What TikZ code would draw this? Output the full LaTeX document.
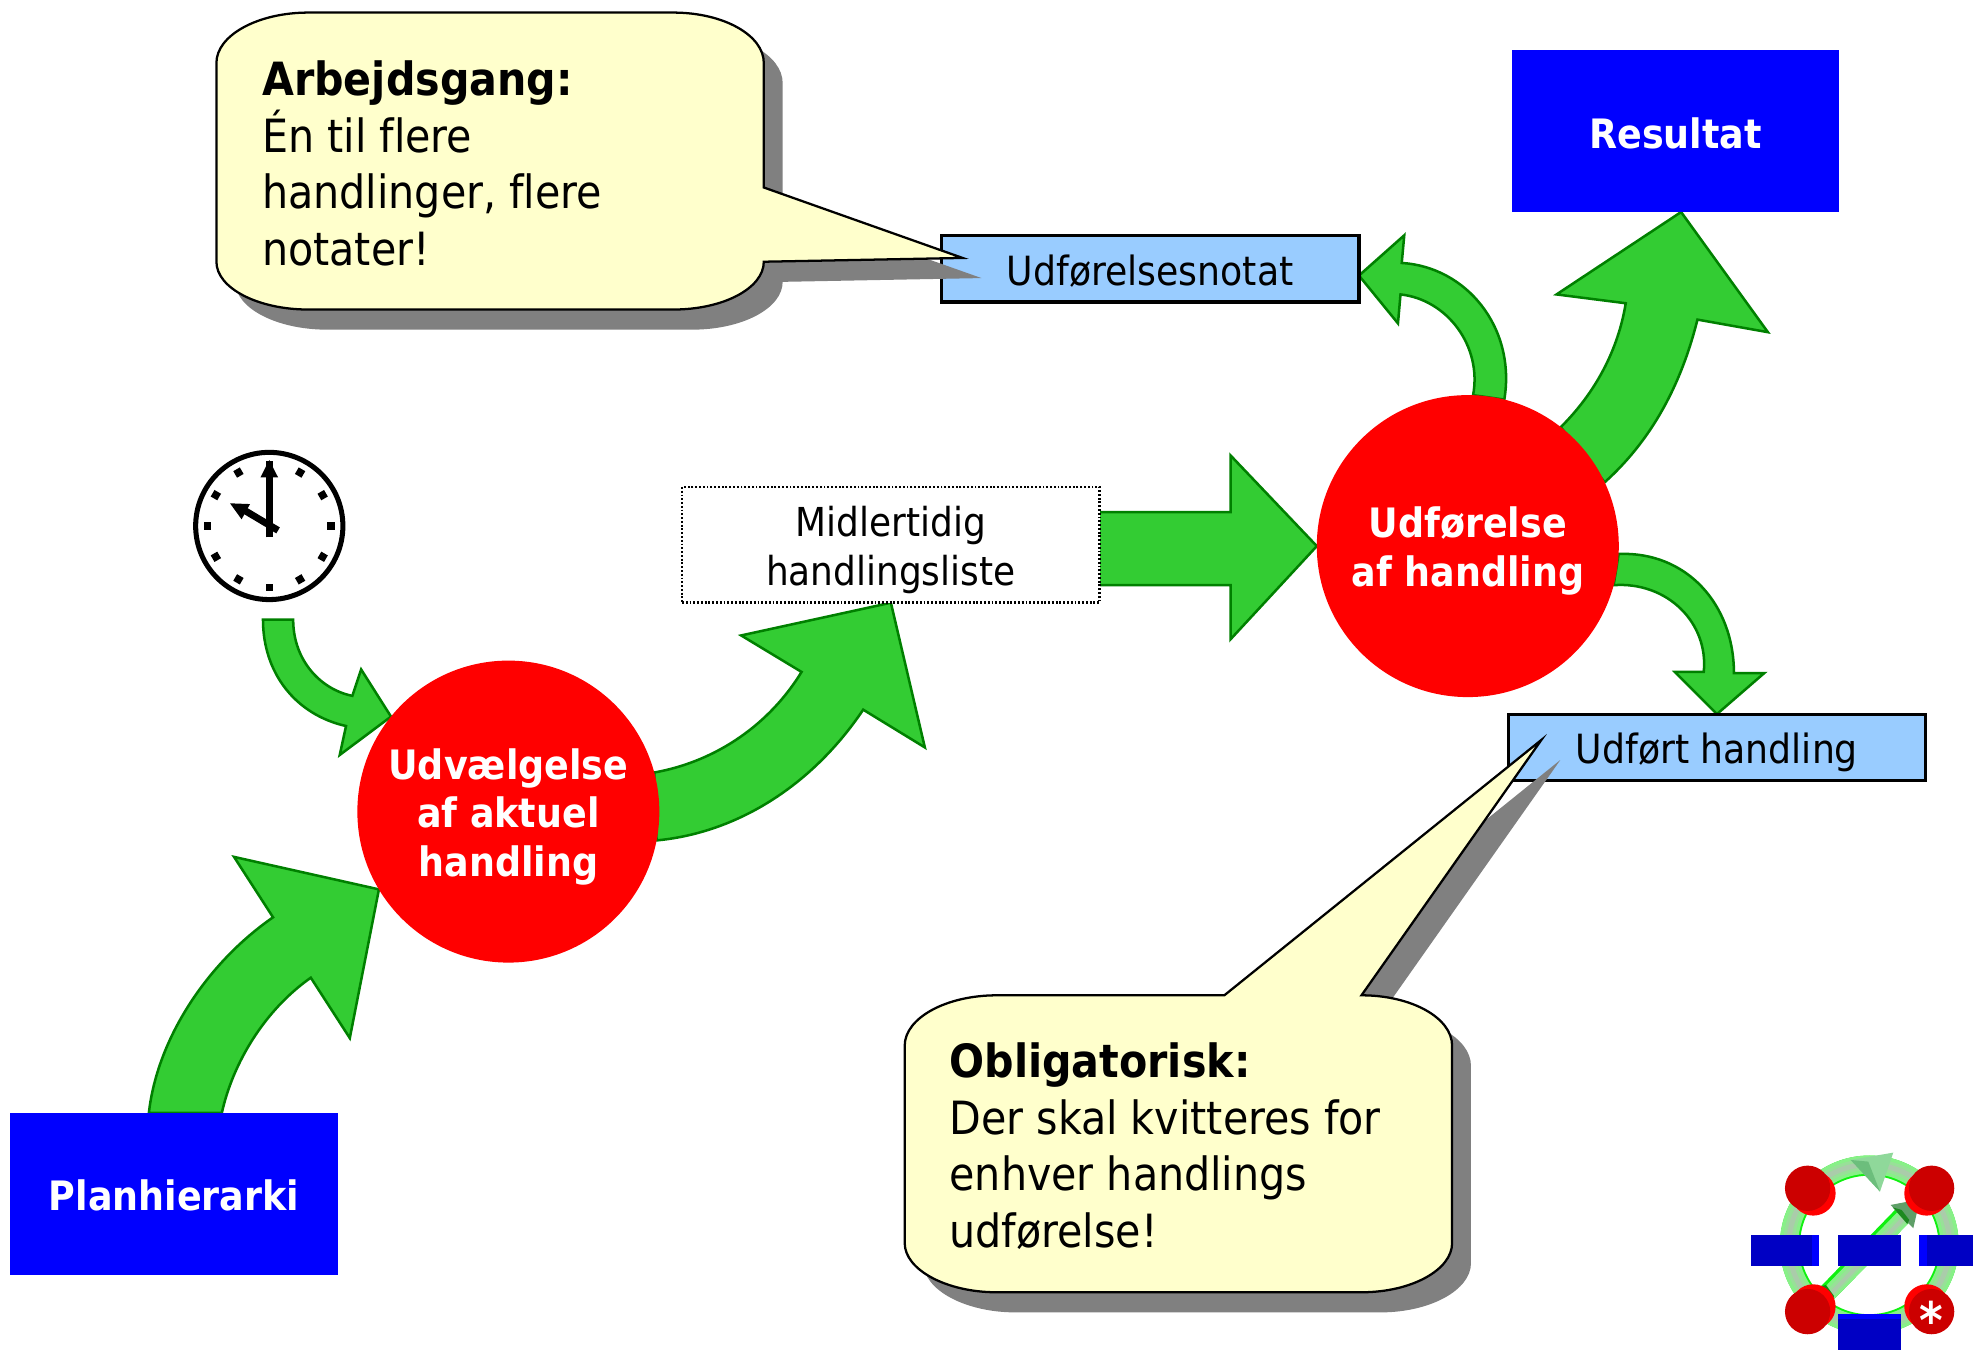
\documentclass[tikz,border=0pt]{standalone}
\usepackage{fontspec}
\setmainfont[Ligatures=NoCommon]{DejaVu Sans Condensed}
\usetikzlibrary{calc,positioning}
\pgfdeclarelayer{arrows}
\pgfsetlayers{arrows,main}
\definecolor{arrowgreen}{HTML}{33CC33}
\definecolor{arrowedge}{HTML}{008000}
\definecolor{boxblue}{HTML}{0000FF}
\definecolor{noteblue}{HTML}{99CCFF}
\definecolor{notecream}{HTML}{FFFFCC}
\definecolor{shadowgray}{HTML}{808080}
\definecolor{logored}{HTML}{CC0000}
\definecolor{logoblue}{HTML}{0000C4}
\definecolor{ringbright}{HTML}{10F010}
\definecolor{ringlight}{HTML}{88F088}
\definecolor{ringmid}{HTML}{98E098}
\definecolor{ringcore}{HTML}{AACCAA}
\definecolor{conelight}{HTML}{8FD89A}
\definecolor{conedark}{HTML}{6CBE7C}
\definecolor{conegray}{HTML}{5F9F68}
\newcommand{\down}[1]{\rule{0pt}{#1pt}}
\tikzset{
  blockarrow/.style={fill=arrowgreen,draw=arrowedge,line width=2pt,line join=miter},
  bigbox/.style={rectangle,fill=boxblue,text=white,font=\fontsize{32.2}{38.5}\selectfont\bfseries,minimum width=260pt,minimum height=129pt,inner sep=0pt,outer sep=0pt},
  notebox/.style={rectangle,fill=noteblue,draw=black,line width=2.5pt,font=\fontsize{32}{38.5}\selectfont,minimum width=332pt,minimum height=53pt,inner sep=0pt,outer sep=0pt},
  tempbox/.style={rectangle,fill=white,draw=black,line width=2.2pt,dash pattern=on 1.5pt off 1.5pt,align=center,font=\fontsize{31.7}{38.5}\selectfont,minimum width=332pt,minimum height=92pt,inner sep=0pt,outer sep=0pt},
  process/.style={circle,fill=red,text=white,align=center,font=\fontsize{32.2}{38.5}\selectfont\bfseries,minimum size=240pt,inner sep=0pt,outer sep=0pt},
  callout/.style={fill=notecream,draw=black,line width=1.8pt,line join=miter},
  calloutshadow/.style={fill=shadowgray},
  callouttext/.style={align=left,inner sep=0pt,outer sep=0pt,font=\fontsize{36.4}{45}\selectfont},
  clockface/.style={circle,draw=black,fill=white,line width=4pt,minimum size=117pt,inner sep=0pt,outer sep=2pt},
  clocktick/.style={fill=black,minimum size=6pt,inner sep=0pt,rectangle},
  logobar/.style={fill=logoblue},
  logobevel/.style={fill=boxblue}
}
\newcommand{\calloutApath}{(172,50) .. controls (172,28) and (205,10) .. (245,10) -- (535,10) .. controls (575,10) and (607,28) .. (607,50) -- (607,149) -- (765,205) -- (607,208) .. controls (607,229) and (575,246) .. (535,246) -- (245,246) .. controls (205,246) and (172,229) .. (172,208) -- cycle}
\newcommand{\calloutBpath}{(719,831) .. controls (719,809) and (752,791) .. (792,791) -- (973,791) -- (1225,588) -- (1082,791) .. controls (1122,791) and (1154,809) .. (1154,831) -- (1154,988) .. controls (1154,1009) and (1122,1027) .. (1082,1027) -- (792,1027) .. controls (752,1027) and (719,1009) .. (719,988) -- cycle}
\begin{document}
\begin{tikzpicture}[x=1pt,y=-1pt]
\path[use as bounding box,clip] (0,0) rectangle (1568,1072.1);

% nodes
\node[bigbox] (plan) at (138.3,949) {\down{26.5}Planhierarki};
\node[bigbox] (res) at (1331.5,104) {\down{28.5}Resultat};
\node[notebox] (note) at (914,213.5) {\down{28.5}Udførelsesnotat};
\node[notebox] (done) at (1364.5,594) {\down{32.5}Udført handling};
\node[tempbox] (mid) at (708,433) {\down{32.5}Midlertidig\\handlingsliste};
\node[clockface] (clock) at (214,418) {};
\node[process] (uv) at (404,645) {\down{32.5}Udvælgelse\\af aktuel\\handling};
\node[process] (exec) at (1166.5,434) {\down{32.5}Udførelse\\af handling};

% block arrows
\begin{pgfonlayer}{arrows}
\draw[blockarrow] ([xshift=-20pt]plan.north) .. controls (125,825) and (165,765) .. (217,729) -- (186,681) -- (uv.211) -- (278,825) -- (247,777) .. controls (210,803) and (185,845) .. ([xshift=38pt]plan.north) -- cycle;
\draw[blockarrow] (uv.15) .. controls (570,605) and (612,575) .. (637,534) -- (589,505) -- (mid.south) -- (735,594) -- (686,564) .. controls (645,625) and (585,662) .. (uv.-11) -- cycle;
\draw[blockarrow] ([xshift=-5pt,yshift=-14pt]clock.south) .. controls (209,535) and (235,568) .. (275,577) -- (270,600) -- (uv.141) -- (287,532) -- (280,553) .. controls (255,548) and (233,525) .. ([xshift=19pt,yshift=-14pt]clock.south) -- cycle;
\draw[blockarrow] (exec.52) .. controls (1268,312) and (1286,278) .. (1292,241) -- (1237,234) -- ([xshift=4.5pt]res.south) -- (1405,264) -- (1349,254) .. controls (1335,310) and (1310,352) .. (exec.25) -- cycle;
\draw[blockarrow] (exec.88) .. controls (1178,275) and (1150,238) .. (1113,234) -- (1111,257) -- ([yshift=-5.5pt]note.east) -- (1116,187) -- (1114,209) .. controls (1165,212) and (1205,260) .. (exec.76) -- cycle;
\draw[blockarrow] (exec.-3) .. controls (1340,438) and (1378,480) .. (1378,535) -- (1402,535) -- (done.north) -- (1331,534) -- (1354,534) .. controls (1358,495) and (1325,462) .. (exec.-15) -- cycle;
\draw[blockarrow] ([yshift=26pt]mid.east) -- (978,407) -- (978,362) -- (exec.west) -- (978,508) -- (978,465) -- ([yshift=-32pt]mid.east);
\end{pgfonlayer}

% clock details
\foreach \a in {0,30,...,330}{
  \node[clocktick,rotate=\a] (tick\a) at ($(clock.center)+(\a:49pt)$) {};
}
\draw[line width=5.5pt] ([yshift=-9pt]clock.center) -- ++(0,-50);
\fill (214,365.6) -- (221,379.4) -- (207,379.4) -- cycle;
\draw[line width=5.5pt] (221,421.5) -- (195,406);
\fill (182.8,400) -- (198.7,400.6) -- (192,412.7) -- cycle;

% callouts
\fill[calloutshadow,xshift=15pt,yshift=-16pt] \calloutApath;
\draw[callout] \calloutApath;
\node[callouttext] (ta) at (343.5,130) {\textbf{Arbejdsgang:}\\Én til flere\\handlinger, flere\\notater!};
\fill[calloutshadow,xshift=15pt,yshift=-16pt] \calloutBpath;
\draw[callout] \calloutBpath;
\node[callouttext] (tb) at (926,911) {\textbf{Obligatorisk:}\\Der skal kvitteres for\\enhver handlings\\udførelse!};

% logo
\begin{scope}[shift={(1351,898)},x=.2649pt,y=-.2649pt]
\draw[ringbright,line width=16pt] (508,345) circle[radius=238];
\draw[ringlight,line width=14.5pt] (508,345) circle[radius=241];
\draw[ringmid,line width=9pt] (508,345) circle[radius=241];
\draw[ringcore,line width=4pt] (508,345) circle[radius=241];
\fill[ringbright] (360,472) -- (585,240) -- (625,280) -- (400,510) -- cycle;
\fill[ringlight] (367,479) -- (592,247) -- (625,280) -- (400,510) -- cycle;
\fill[ringmid] (375,487) -- (600,255) -- (620,275) -- (395,505) -- cycle;
\fill[ringcore] (382,494) -- (605,262) -- (615,270) -- (390,502) -- cycle;
\fill[arrowedge!80!arrowgreen] (360,470) -- (378,465) -- (402,498) -- (398,512) -- cycle;
\fill[conegray] (572,225) -- (660,208) -- (640,295) -- cycle;
\fill[arrowedge!70!conegray] (578,232) -- (605,240) -- (628,270) -- (622,282) -- cycle;
\fill[conelight] (452,90) -- (580,68) -- (540,185) -- cycle;
\fill[conedark] (452,90) -- (505,95) -- (540,185) -- cycle;
\foreach \bx/\by/\fx/\fy in {340/190/323/175,680/190/695/175,340/530/323/545,680/530/695/545}{
  \fill[red] (\bx,\by) circle[radius=67];
  \fill[logored] (\fx,\fy) circle[radius=68];
}
\node[text=white,font=\fontsize{40}{40}\selectfont\bfseries,inner sep=0pt] (star) at (695,571) {*};
\fill[logobar] (153,315) rectangle (340,407);
\fill[logobevel] (337,315) rectangle (358,407);
\fill[logobar] (415,315) rectangle (602,407);
\fill[logobar] (680,315) rectangle (830,407);
\fill[logobevel] (658,315) rectangle (682,407);
\fill[logobevel] (415,552) rectangle (602,568);
\fill[logobar] (415,568) rectangle (602,670);
\end{scope}
\end{tikzpicture}
\end{document}
